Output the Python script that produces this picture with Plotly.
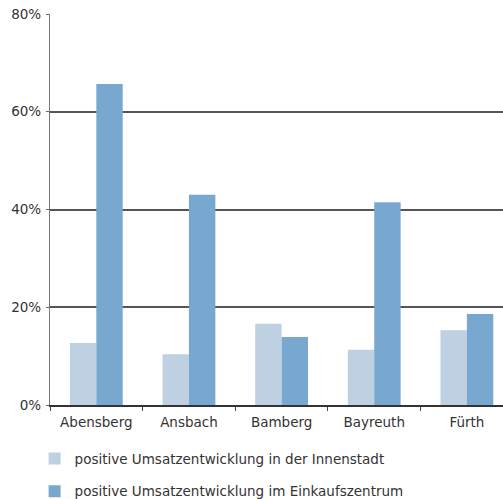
import plotly.graph_objects as go

cities = ["Abensberg", "Ansbach", "Bamberg", "Bayreuth", "Fürth"]
innenstadt = [12.7, 10.4, 16.6, 11.3, 15.3]
einkaufszentrum = [65.7, 43.0, 13.9, 41.5, 18.6]
series_names = ["positive Umsatzentwicklung in der Innenstadt",
                "positive Umsatzentwicklung im Einkaufszentrum"]
y_ticks = [0, 20, 40, 60, 80]
y_tick_labels = ["0%", "20%", "40%", "60%", "80%"]

fig = go.Figure()
fig.add_trace(go.Bar(x=cities, y=innenstadt, name=series_names[0],
                     marker=dict(color="#bdd1e2", line=dict(width=0)),
                     legendgroup="a"))
fig.add_trace(go.Bar(x=cities, y=einkaufszentrum, name=series_names[1],
                     marker=dict(color="#78a8cf", line=dict(width=0)),
                     legendgroup="b"))

fig.update_layout(
    width=503, height=499,
    margin=dict(l=50, r=0, t=14, b=94, autoexpand=False),
    paper_bgcolor="white", plot_bgcolor="white",
    barmode="group", bargap=0.43, bargroupgap=0,
    font=dict(family="DejaVu Sans", size=13.5, color="#333333"),
    showlegend=True,
    legend=dict(orientation="v", x=-0.034, y=-0.098, xanchor="left", yanchor="top",
                xref="paper", yref="paper",
                tracegroupgap=12, font=dict(size=13.5, color="#333333"),
                bgcolor="rgba(0,0,0,0)"),
    xaxis=dict(range=[-0.5, 4.39], showgrid=False, ticks="outside", ticklen=4,
               tickson="boundaries", tickcolor="#444444", automargin=False,
               showline=True, linecolor="#333333", linewidth=1.5,
               ticklabelstandoff=4, tickfont=dict(size=13.5)),
    yaxis=dict(range=[0, 80], tickvals=y_ticks, ticktext=y_tick_labels,
               showgrid=True, gridcolor="#555555", gridwidth=1.5,
               ticks="outside", ticklen=3, tickcolor="#666666", automargin=False,
               showline=True, linecolor="#777777", linewidth=1.3,
               ticklabelstandoff=2,
               zeroline=False, tickfont=dict(size=13.5)),
)

fig.write_html("out.html", config={"displayModeBar": False},
               post_script="document.body.style.margin='0';document.body.style.overflow='hidden';")
